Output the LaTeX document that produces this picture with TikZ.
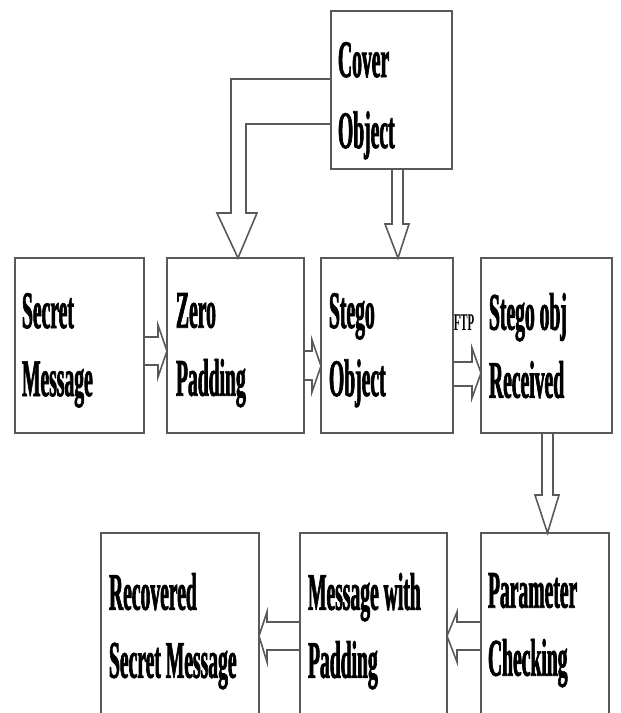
\documentclass[tikz,border=0pt]{standalone}
\usepackage{fontspec}
\newfontfamily\lblfont{Liberation Serif Bold}[FakeStretch=0.37, FakeBold=1.2]
\newfontfamily\ftpfont{Liberation Serif Bold}[FakeStretch=0.45]
\usetikzlibrary{calc}
\tikzset{
  box/.style={draw=black!65, line width=2pt, rectangle, inner sep=0pt, outer sep=0pt, anchor=north west},
  lbl/.style={anchor=north west, inner sep=0pt, outer sep=0pt, align=left, text=black,
    font=\lblfont\fontsize{53}{68}\selectfont},
  barrow/.style={draw=black!65, line width=1.6pt, line join=miter},
}
\newcommand\mkbox[5]{\node[box, minimum width=#4-#2, minimum height=#5-#3] (#1) at (#2,#3) {};}
\begin{document}
\begin{tikzpicture}[x=1pt,y=-1pt]
\useasboundingbox (0,0) rectangle (621,713);
\clip (0,0) rectangle (621,713);
% boxes
\mkbox{cover}{331}{11}{452}{169}
\mkbox{sm}{15}{258}{144}{433}
\mkbox{zp}{167}{258}{304}{433}
\mkbox{so}{321}{258}{453}{433}
\mkbox{sr}{481}{258}{612}{433}
\mkbox{rec}{101}{533}{259}{760}
\mkbox{mp}{300}{533}{447}{760}
\mkbox{pc}{481}{533}{609}{760}
% labels
\node[lbl, font=\lblfont\fontsize{53}{71}\selectfont] (covert) at ($(cover.north west)+(7,31)$) {Cover\\Object};
\node[lbl] (smt) at ($(sm.north west)+(7,35)$) {Secret\\Message};
\node[lbl] (zpt) at ($(zp.north west)+(9,35)$) {Zero\\Padding};
\node[lbl] (sot) at ($(so.north west)+(8,35)$) {Stego\\Object};
\node[lbl] (srt) at ($(sr.north west)+(8,35)$) {Stego obj\\Received};
\node[lbl] (rect) at ($(rec.north west)+(8,40)$) {Recovered\\Secret Message};
\node[lbl] (mpt) at ($(mp.north west)+(8,40)$) {Message with\\Padding};
\node[lbl] (pct) at ($(pc.north west)+(7,40)$) {Parameter\\Checking};
\node[font=\ftpfont\fontsize{24}{24}\selectfont, anchor=base, inner sep=0pt] (ftp) at (464,330) {FTP};
% arrows
\draw[barrow] (cover.west |- 0,79) -- (231,79) -- (231,213) -- (217,213) -- (238,0 |- zp.north) -- (257,213) -- (246,213) -- (246,124) -- (cover.west |- 0,124);
\draw[barrow] (392,0 |- cover.south) -- (392,224) -- (385,224) -- (398,0 |- so.north) -- (409,224) -- (403,224) -- (403,0 |- cover.south);
\draw[barrow] (sm.east |- 0,337) -- (158,337) -- (158,325) -- (zp.west |- 0,351) -- (158,377) -- (158,365) -- (sm.east |- 0,365);
\draw[barrow] (zp.east |- 0,351) -- (312,351) -- (312,340) -- (so.west |- 0,366) -- (312,392) -- (312,380) -- (zp.east |- 0,380);
\draw[barrow] (so.east |- 0,362) -- (472,362) -- (472,348) -- (sr.west |- 0,373) -- (472,398) -- (472,386) -- (so.east |- 0,386);
\draw[barrow] (542,0 |- sr.south) -- (542,495) -- (535,495) -- (547.5,0 |- pc.north) -- (559,495) -- (553,495) -- (553,0 |- sr.south);
\draw[barrow] (pc.west |- 0,622) -- (457,622) -- (457,612) -- (mp.east |- 0,636) -- (457,662) -- (457,650) -- (pc.west |- 0,650);
\draw[barrow] (mp.west |- 0,622) -- (267,622) -- (267,612) -- (rec.east |- 0,636) -- (267,662) -- (267,650) -- (mp.west |- 0,650);
\end{tikzpicture}
\end{document}
